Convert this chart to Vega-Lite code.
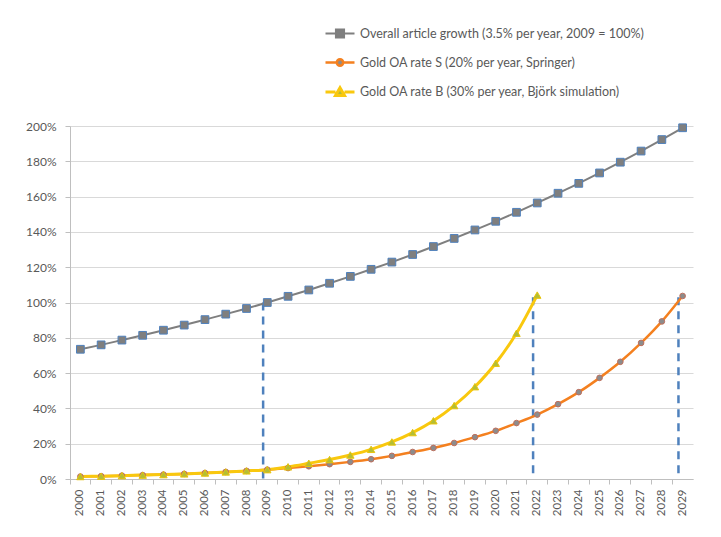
{
  "$schema": "https://vega.github.io/schema/vega-lite/v6.json",
  "autosize": "none",
  "width": 623,
  "height": 353,
  "padding": {"left": 70, "top": 126, "right": 28, "bottom": 58},
  "background": "white",
  "config": {
    "font": "Lato",
    "view": {"stroke": null},
    "axis": {"labelFont": "Lato", "labelColor": "#595959", "domainColor": "#BFBFBF", "tickColor": "#BFBFBF", "gridColor": "#D9D9D9"}
  },
  "datasets": {
    "series": [
      {"year": "2000", "series": "Overall article growth (3.5% per year, 2009 = 100%)", "value": 73.5},
      {"year": "2001", "series": "Overall article growth (3.5% per year, 2009 = 100%)", "value": 76},
      {"year": "2002", "series": "Overall article growth (3.5% per year, 2009 = 100%)", "value": 78.7},
      {"year": "2003", "series": "Overall article growth (3.5% per year, 2009 = 100%)", "value": 81.4},
      {"year": "2004", "series": "Overall article growth (3.5% per year, 2009 = 100%)", "value": 84.3},
      {"year": "2005", "series": "Overall article growth (3.5% per year, 2009 = 100%)", "value": 87.2},
      {"year": "2006", "series": "Overall article growth (3.5% per year, 2009 = 100%)", "value": 90.3},
      {"year": "2007", "series": "Overall article growth (3.5% per year, 2009 = 100%)", "value": 93.4},
      {"year": "2008", "series": "Overall article growth (3.5% per year, 2009 = 100%)", "value": 96.6},
      {"year": "2009", "series": "Overall article growth (3.5% per year, 2009 = 100%)", "value": 100},
      {"year": "2010", "series": "Overall article growth (3.5% per year, 2009 = 100%)", "value": 103.5},
      {"year": "2011", "series": "Overall article growth (3.5% per year, 2009 = 100%)", "value": 107.1},
      {"year": "2012", "series": "Overall article growth (3.5% per year, 2009 = 100%)", "value": 110.9},
      {"year": "2013", "series": "Overall article growth (3.5% per year, 2009 = 100%)", "value": 114.8},
      {"year": "2014", "series": "Overall article growth (3.5% per year, 2009 = 100%)", "value": 118.8},
      {"year": "2015", "series": "Overall article growth (3.5% per year, 2009 = 100%)", "value": 122.9},
      {"year": "2016", "series": "Overall article growth (3.5% per year, 2009 = 100%)", "value": 127.2},
      {"year": "2017", "series": "Overall article growth (3.5% per year, 2009 = 100%)", "value": 131.7},
      {"year": "2018", "series": "Overall article growth (3.5% per year, 2009 = 100%)", "value": 136.3},
      {"year": "2019", "series": "Overall article growth (3.5% per year, 2009 = 100%)", "value": 141.1},
      {"year": "2020", "series": "Overall article growth (3.5% per year, 2009 = 100%)", "value": 146},
      {"year": "2021", "series": "Overall article growth (3.5% per year, 2009 = 100%)", "value": 151.1},
      {"year": "2022", "series": "Overall article growth (3.5% per year, 2009 = 100%)", "value": 156.4},
      {"year": "2023", "series": "Overall article growth (3.5% per year, 2009 = 100%)", "value": 161.9},
      {"year": "2024", "series": "Overall article growth (3.5% per year, 2009 = 100%)", "value": 167.5},
      {"year": "2025", "series": "Overall article growth (3.5% per year, 2009 = 100%)", "value": 173.4},
      {"year": "2026", "series": "Overall article growth (3.5% per year, 2009 = 100%)", "value": 179.5},
      {"year": "2027", "series": "Overall article growth (3.5% per year, 2009 = 100%)", "value": 185.8},
      {"year": "2028", "series": "Overall article growth (3.5% per year, 2009 = 100%)", "value": 192.3},
      {"year": "2029", "series": "Overall article growth (3.5% per year, 2009 = 100%)", "value": 199},
      {"year": "2000", "series": "Gold OA rate S (20% per year, Springer)", "value": 1.4},
      {"year": "2001", "series": "Gold OA rate S (20% per year, Springer)", "value": 1.6},
      {"year": "2002", "series": "Gold OA rate S (20% per year, Springer)", "value": 1.9},
      {"year": "2003", "series": "Gold OA rate S (20% per year, Springer)", "value": 2.2},
      {"year": "2004", "series": "Gold OA rate S (20% per year, Springer)", "value": 2.5},
      {"year": "2005", "series": "Gold OA rate S (20% per year, Springer)", "value": 2.9},
      {"year": "2006", "series": "Gold OA rate S (20% per year, Springer)", "value": 3.4},
      {"year": "2007", "series": "Gold OA rate S (20% per year, Springer)", "value": 4.0},
      {"year": "2008", "series": "Gold OA rate S (20% per year, Springer)", "value": 4.6},
      {"year": "2009", "series": "Gold OA rate S (20% per year, Springer)", "value": 5.3},
      {"year": "2010", "series": "Gold OA rate S (20% per year, Springer)", "value": 6.2},
      {"year": "2011", "series": "Gold OA rate S (20% per year, Springer)", "value": 7.2},
      {"year": "2012", "series": "Gold OA rate S (20% per year, Springer)", "value": 8.4},
      {"year": "2013", "series": "Gold OA rate S (20% per year, Springer)", "value": 9.7},
      {"year": "2014", "series": "Gold OA rate S (20% per year, Springer)", "value": 11.2},
      {"year": "2015", "series": "Gold OA rate S (20% per year, Springer)", "value": 13.1},
      {"year": "2016", "series": "Gold OA rate S (20% per year, Springer)", "value": 15.3},
      {"year": "2017", "series": "Gold OA rate S (20% per year, Springer)", "value": 17.6},
      {"year": "2018", "series": "Gold OA rate S (20% per year, Springer)", "value": 20.4},
      {"year": "2019", "series": "Gold OA rate S (20% per year, Springer)", "value": 23.7},
      {"year": "2020", "series": "Gold OA rate S (20% per year, Springer)", "value": 27.3},
      {"year": "2021", "series": "Gold OA rate S (20% per year, Springer)", "value": 31.7},
      {"year": "2022", "series": "Gold OA rate S (20% per year, Springer)", "value": 36.5},
      {"year": "2023", "series": "Gold OA rate S (20% per year, Springer)", "value": 42.4},
      {"year": "2024", "series": "Gold OA rate S (20% per year, Springer)", "value": 49.2},
      {"year": "2025", "series": "Gold OA rate S (20% per year, Springer)", "value": 57.3},
      {"year": "2026", "series": "Gold OA rate S (20% per year, Springer)", "value": 66.4},
      {"year": "2027", "series": "Gold OA rate S (20% per year, Springer)", "value": 77.1},
      {"year": "2028", "series": "Gold OA rate S (20% per year, Springer)", "value": 89.3},
      {"year": "2029", "series": "Gold OA rate S (20% per year, Springer)", "value": 103.7},
      {"year": "2000", "series": "Gold OA rate B (30% per year, Björk simulation)", "value": 1.4},
      {"year": "2001", "series": "Gold OA rate B (30% per year, Björk simulation)", "value": 1.6},
      {"year": "2002", "series": "Gold OA rate B (30% per year, Björk simulation)", "value": 1.9},
      {"year": "2003", "series": "Gold OA rate B (30% per year, Björk simulation)", "value": 2.2},
      {"year": "2004", "series": "Gold OA rate B (30% per year, Björk simulation)", "value": 2.5},
      {"year": "2005", "series": "Gold OA rate B (30% per year, Björk simulation)", "value": 2.9},
      {"year": "2006", "series": "Gold OA rate B (30% per year, Björk simulation)", "value": 3.4},
      {"year": "2007", "series": "Gold OA rate B (30% per year, Björk simulation)", "value": 4.0},
      {"year": "2008", "series": "Gold OA rate B (30% per year, Björk simulation)", "value": 4.6},
      {"year": "2009", "series": "Gold OA rate B (30% per year, Björk simulation)", "value": 5.3},
      {"year": "2010", "series": "Gold OA rate B (30% per year, Björk simulation)", "value": 6.9},
      {"year": "2011", "series": "Gold OA rate B (30% per year, Björk simulation)", "value": 8.9},
      {"year": "2012", "series": "Gold OA rate B (30% per year, Björk simulation)", "value": 11.0},
      {"year": "2013", "series": "Gold OA rate B (30% per year, Björk simulation)", "value": 13.6},
      {"year": "2014", "series": "Gold OA rate B (30% per year, Björk simulation)", "value": 16.8},
      {"year": "2015", "series": "Gold OA rate B (30% per year, Björk simulation)", "value": 21.0},
      {"year": "2016", "series": "Gold OA rate B (30% per year, Björk simulation)", "value": 26.3},
      {"year": "2017", "series": "Gold OA rate B (30% per year, Björk simulation)", "value": 33.0},
      {"year": "2018", "series": "Gold OA rate B (30% per year, Björk simulation)", "value": 41.6},
      {"year": "2019", "series": "Gold OA rate B (30% per year, Björk simulation)", "value": 52.3},
      {"year": "2020", "series": "Gold OA rate B (30% per year, Björk simulation)", "value": 65.6},
      {"year": "2021", "series": "Gold OA rate B (30% per year, Björk simulation)", "value": 82.6},
      {"year": "2022", "series": "Gold OA rate B (30% per year, Björk simulation)", "value": 104.2}
    ],
    "markers": [
      {"year": "2009", "top": 100},
      {"year": "2022", "top": 103},
      {"year": "2029", "top": 103}
    ]
  },
  "encoding": {
    "x": {
      "field": "year", "type": "ordinal",
      "scale": {"type": "band", "paddingInner": 0, "paddingOuter": 0},
      "axis": {"title": null, "bandPosition": 0, "labelAngle": 270, "labelFontSize": 11.5, "tickSize": 5, "labelPadding": 5, "grid": false}
    },
    "y": {
      "field": "value", "type": "quantitative",
      "scale": {"domain": [0, 200]},
      "axis": {"title": null, "values": [0, 20, 40, 60, 80, 100, 120, 140, 160, 180, 200], "labelExpr": "datum.value + '%'", "labelFontSize": 12, "tickSize": 5, "labelPadding": 9, "grid": true}
    }
  },
  "layer": [
    {
      "data": {"name": "markers"},
      "mark": {"type": "rule", "color": "#4F81BD", "strokeWidth": 2.5, "strokeDash": [8, 6]},
      "encoding": {
        "x": {"field": "year", "type": "ordinal", "bandPosition": 0.3},
        "y": {"field": "top", "type": "quantitative"},
        "y2": {"datum": 0}
      }
    },
    {
      "data": {"name": "series"},
      "mark": {"type": "line", "interpolate": "monotone"},
      "encoding": {
        "color": {
          "field": "series", "type": "nominal",
          "scale": {
            "domain": ["Overall article growth (3.5% per year, 2009 = 100%)", "Gold OA rate S (20% per year, Springer)", "Gold OA rate B (30% per year, Björk simulation)"],
            "range": ["#7F7F7F", "#F4801F", "#F9C80E"]
          },
          "legend": {
            "title": null, "orient": "none", "legendX": 254, "legendY": -108,
            "padding": 0, "rowPadding": 4.5, "labelFont": "Lato", "labelFontSize": 12.5, "labelColor": "#595959", "labelOffset": 4,
            "symbolSize": 841, "symbolStrokeWidth": 2.5, "labelLimit": 400,
            "encode": {
              "symbols": {
                "update": {
                  "shape": {"signal": "datum.index == 0 ? 'M-1,0H-0.28M0.28,0H1M-0.28,-0.28H0.28V0.28H-0.28Z' : datum.index == 1 ? 'M-1,0H-0.22M0.22,0H1M-0.22,0A0.22,0.22 0 1,0 0.22,0A0.22,0.22 0 1,0 -0.22,0Z' : 'M-1,0H-0.31M0.31,0H1M-0.31,0.24L0,-0.3L0.31,0.24Z'"},
                  "fill": {"signal": "datum.index == 0 ? '#7F7F7F' : datum.index == 1 ? '#8C8C8C' : '#B3BE35'"}
                }
              }
            }
          }
        },
        "strokeWidth": {
          "field": "series", "type": "nominal",
          "scale": {
            "domain": ["Overall article growth (3.5% per year, 2009 = 100%)", "Gold OA rate S (20% per year, Springer)", "Gold OA rate B (30% per year, Björk simulation)"],
            "range": [2, 3, 2.5]
          },
          "legend": null
        }
      }
    },
    {
      "data": {"name": "series"},
      "transform": [{"filter": "datum.series == 'Overall article growth (3.5% per year, 2009 = 100%)'"}],
      "mark": {"type": "point", "shape": "square", "filled": true, "fill": "#7F7F7F", "stroke": "#4F81BD", "strokeWidth": 1, "size": 60, "opacity": 1}
    },
    {
      "data": {"name": "series"},
      "transform": [{"filter": "datum.series == 'Gold OA rate S (20% per year, Springer)'"}],
      "mark": {"type": "point", "shape": "circle", "filled": true, "fill": "#8C8C8C", "stroke": "#C0705D", "strokeWidth": 1, "size": 32, "opacity": 1}
    },
    {
      "data": {"name": "series"},
      "transform": [{"filter": "datum.series == 'Gold OA rate B (30% per year, Björk simulation)'"}],
      "mark": {"type": "point", "shape": "triangle-up", "filled": true, "fill": "#B3BE35", "stroke": "#E8C40A", "strokeWidth": 1, "size": 55, "opacity": 1}
    }
  ]
}
